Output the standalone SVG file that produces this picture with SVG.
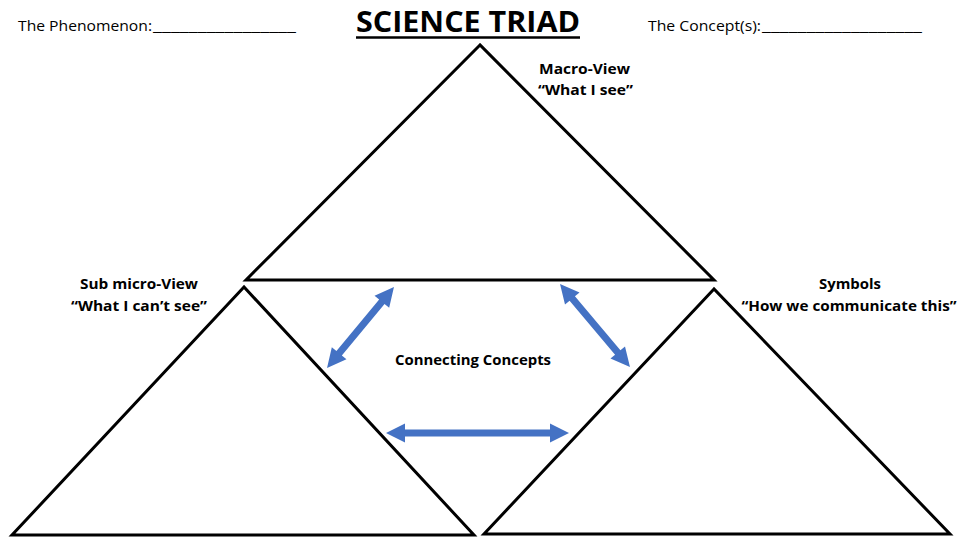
<svg xmlns="http://www.w3.org/2000/svg" width="960" height="540" viewBox="0 0 960 540">
<style>
.t{font-family:"Open Sans","Liberation Sans",sans-serif;font-size:14px;fill:#000}
.b{font-weight:bold}
.tri{fill:none;stroke:#000;stroke-width:3;stroke-linejoin:miter}
.arr{fill:#4472C4}
</style>
<rect width="960" height="540" fill="#fff"/>
<g id="header">
<text class="t" y="31"><tspan x="18" textLength="134" lengthAdjust="spacingAndGlyphs">The Phenomenon:</tspan><tspan x="153" textLength="143" lengthAdjust="spacingAndGlyphs">________________</tspan></text>
<text x="356" y="32" font-family="'Open Sans','Liberation Sans',sans-serif" font-size="28" font-weight="bold" textLength="224" lengthAdjust="spacingAndGlyphs">SCIENCE TRIAD</text>
<line x1="356" y1="37.5" x2="580" y2="37.5" stroke="#000" stroke-width="2.5"/>
<text class="t" y="31"><tspan x="648" textLength="113" lengthAdjust="spacingAndGlyphs">The Concept(s):</tspan><tspan x="762" textLength="160" lengthAdjust="spacingAndGlyphs">__________________</tspan></text>
</g>
<g id="macro">
<polygon class="tri" points="480,45 246,280 714,280"/>
<text class="t b" x="539" y="74" textLength="91" lengthAdjust="spacingAndGlyphs">Macro-View</text>
<text class="t b" x="538" y="95" textLength="95" lengthAdjust="spacingAndGlyphs">“What I see”</text>
</g>
<g id="submicro">
<polygon class="tri" points="244,287 12,535 474,535"/>
<text class="t b" x="139" y="289" text-anchor="middle" textLength="118" lengthAdjust="spacingAndGlyphs">Sub micro-View</text>
<text class="t b" x="139" y="311" text-anchor="middle" textLength="136" lengthAdjust="spacingAndGlyphs">“What I can’t see”</text>
</g>
<g id="symbols">
<polygon class="tri" points="714,289 484,534 950,534"/>
<text class="t b" x="850" y="289" text-anchor="middle" textLength="62" lengthAdjust="spacingAndGlyphs">Symbols</text>
<text class="t b" x="849" y="311" text-anchor="middle" textLength="215" lengthAdjust="spacingAndGlyphs">“How we communicate this”</text>
</g>
<g id="connecting">
<text class="t b" x="395" y="365" textLength="156" lengthAdjust="spacingAndGlyphs">Connecting Concepts</text>
</g>
<g id="connectors">
<path class="arr" transform="translate(360.5,327.5) rotate(-50.4)" d="M-52.5,0 L-33.5,-9.5 L-33.5,-3.5 L33.5,-3.5 L33.5,-9.5 L52.5,0 L33.5,9.5 L33.5,3.5 L-33.5,3.5 L-33.5,9.5 Z"/>
<path class="arr" transform="translate(595,325.5) rotate(49.9)" d="M-54.3,0 L-35.3,-9.5 L-35.3,-3.5 L35.3,-3.5 L35.3,-9.5 L54.3,0 L35.3,9.5 L35.3,3.5 L-35.3,3.5 L-35.3,9.5 Z"/>
<path class="arr" transform="translate(477.5,433)" d="M-91.5,0 L-72.5,-9.5 L-72.5,-3.5 L72.5,-3.5 L72.5,-9.5 L91.5,0 L72.5,9.5 L72.5,3.5 L-72.5,3.5 L-72.5,9.5 Z"/>
</g>
</svg>
